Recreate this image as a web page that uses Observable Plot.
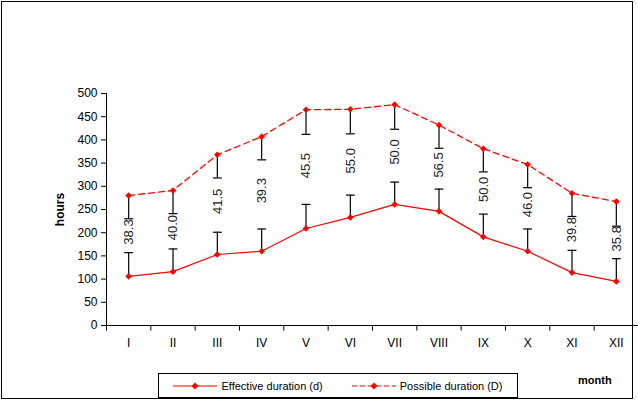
<!DOCTYPE html>
<html><head>
<script src="https://cdn.jsdelivr.net/npm/d3@7"></script>
<script src="https://cdn.jsdelivr.net/npm/@observablehq/plot@0.6"></script>
<style>
body{margin:0;font-family:"Liberation Sans",Arial,sans-serif;background:#fff;}
#wrap{position:relative;width:638px;height:403px;}
#frame{position:absolute;left:1px;top:1px;width:632px;height:398px;border:1px solid #000;box-sizing:border-box;pointer-events:none;}
#legend{position:absolute;left:158px;top:373px;width:360px;height:25px;border:1px solid #000;box-sizing:border-box;font-size:11px;display:flex;align-items:center;justify-content:space-around;}
#legend span{display:flex;align-items:center;gap:4px;}
#month{position:absolute;left:578px;top:374px;font-size:11px;font-weight:bold;}
</style></head><body>
<div id="wrap"><div id="chart"></div><div id="frame"></div>
<div id="legend">
<span><svg width="44" height="8"><line x1="0" y1="4" x2="44" y2="4" stroke="red" stroke-width="1.2"/><path d="M22 0.5L25.5 4L22 7.5L18.5 4Z" fill="red"/></svg>Effective duration (d)</span>
<span><svg width="44" height="8"><line x1="0" y1="4" x2="44" y2="4" stroke="red" stroke-width="1.2" stroke-dasharray="5,3"/><path d="M22 0.5L25.5 4L22 7.5L18.5 4Z" fill="red"/></svg>Possible duration (D)</span>
</div>
<div id="month">month</div>
</div>
<script>
const months = ["I","II","III","IV","V","VI","VII","VIII","IX","X","XI","XII"];
const effective = [106,116,153,160,209,233,261,246,191,160,114,95];
const possible = [280,291,368,407,465,466,476,432,381,347,285,267];
const ratio = ["38.3","40.0","41.5","39.3","45.5","55.0","50.0","56.5","50.0","46.0","39.8","35.8"];
const errUp = [51,49,48,48,52,48,48,48,49,48,48,49];
const errDown = [50,50,50,50,53,53,53,50,50,50,50,53];

const data = months.map((m,i)=>({i, x:i+0.5, m, d:effective[i], D:possible[i], r:ratio[i],
  dTop:effective[i]+errUp[i], DBot:possible[i]-errDown[i]}));
const caps = data.flatMap(o=>[{x:o.x,y:o.dTop},{x:o.x,y:o.DBot}]);
const chart = Plot.plot({
  width:638, height:403, marginLeft:106, marginRight:0, marginTop:93, marginBottom:78,
  style:{fontFamily:"Liberation Sans, Arial, sans-serif", fontSize:"12px"},
  x:{domain:[0,12], axis:null},
  y:{domain:[0,500], ticks:d3.range(0,501,50), label:null},
  marks:[
    Plot.axisY({ticks:d3.range(0,501,50), tickSize:5, fontSize:12, label:null}),
    Plot.ruleX([0]),
    Plot.ruleY([0]),
    Plot.ruleX(d3.range(0,13), {x:d=>d, y1:0, y2:-12}),
    Plot.text(data,{x:"x", y:0, text:"m", dy:18, fontSize:12}),
    Plot.text(["hours"],{x:0, y:250, text:d=>d, dx:-46, rotate:-90, fontWeight:"bold", fontSize:12}),
    Plot.ruleX(data,{x:"x", y1:"d", y2:"dTop", stroke:"black", strokeWidth:1.2}),
    Plot.ruleX(data,{x:"x", y1:"DBot", y2:"D", stroke:"black", strokeWidth:1.2}),
    Plot.link(caps,{x1:d=>d.x-0.1, x2:d=>d.x+0.1, y1:"y", y2:"y", stroke:"black", strokeWidth:1.2}),
    Plot.line(data,{x:"x", y:"d", stroke:"red", strokeWidth:1.2}),
    Plot.line(data,{x:"x", y:"D", stroke:"red", strokeWidth:1.3, strokeDasharray:"6,4"}),
    Plot.dot(data,{x:"x", y:"d", symbol:"diamond2", r:3, fill:"red"}),
    Plot.dot(data,{x:"x", y:"D", symbol:"diamond2", r:3, fill:"red"}),
    Plot.text(data,{x:"x", y:d=>(d.dTop+d.DBot)/2 + 8, text:"r", rotate:-90, fontSize:13, fill:"#222"})
  ]
});
document.getElementById("chart").append(chart);
</script>
</body></html>
